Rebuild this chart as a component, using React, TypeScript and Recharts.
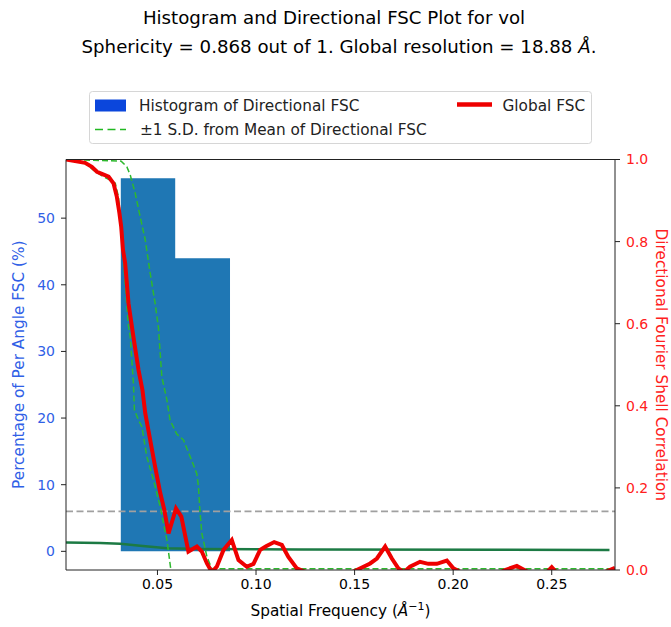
import React from 'react'
import { ComposedChart, Area, Line, XAxis, YAxis, ReferenceLine } from 'recharts'

const W = 671
const H = 627

const FREQ_MIN = 0.0036
const FREQ_MAX = 0.2821
const THRESHOLD = 0.143

// histogram of directional resolution (bin edges in 1/A, percent per bin)
const histEdges = [0.0314, 0.059, 0.0868]
const histPercent = [56.0, 44.0]

// global FSC
const globalFreq = [
  0.0036, 0.0133, 0.0167, 0.0193, 0.0218, 0.0252, 0.0277, 0.0294, 0.0307, 0.0316,
  0.0325, 0.0336, 0.0353, 0.0378, 0.0404, 0.0424, 0.0438, 0.0463, 0.0488, 0.0514,
  0.0535, 0.0556, 0.0594, 0.0621, 0.0657, 0.07, 0.0725, 0.0751, 0.0776, 0.0801,
  0.0835, 0.0877, 0.0911, 0.0953, 0.0987, 0.1021, 0.1051, 0.1092, 0.1131, 0.1164,
  0.1207, 0.1376, 0.1511, 0.1579, 0.1613, 0.1655, 0.1689, 0.1722, 0.1751, 0.1781,
  0.1832, 0.1874, 0.1917, 0.1968, 0.2001, 0.2137, 0.2263, 0.2323, 0.238, 0.2466,
  0.25, 0.2532, 0.2693, 0.2821,
]
const globalFsc = [
  1.0, 0.992, 0.982, 0.97, 0.965, 0.958, 0.942, 0.909, 0.869, 0.836,
  0.78, 0.748, 0.65, 0.568, 0.487, 0.438, 0.382, 0.317, 0.252, 0.188,
  0.146, 0.089, 0.15, 0.13, 0.045, 0.057, 0.045, 0.016, -0.005, 0.008,
  0.049, 0.073, 0.024, 0.008, 0.015, 0.049, 0.058, 0.068, 0.061, 0.032,
  0.004, -0.03, 0.0, 0.016, 0.028, 0.057, 0.028, 0.004, -0.005, 0.008,
  0.02, 0.015, 0.015, 0.023, 0.004, -0.03, 0.0, 0.01, -0.005, -0.01,
  0.007, -0.01, -0.02, 0.005,
]

// mean + 1 S.D. of directional FSC
const upperFreq = [
  0.0036, 0.026, 0.0316, 0.0345, 0.0362, 0.0387, 0.0412, 0.0438, 0.0463, 0.0488,
  0.0505, 0.0522, 0.0548, 0.0564, 0.0598, 0.0632, 0.0666, 0.07, 0.0708, 0.0714,
  0.0725, 0.0751, 0.0776, 0.2821,
]
const upperFsc = [
  1.0, 0.997, 0.996, 0.982, 0.962, 0.918, 0.861, 0.804, 0.723, 0.65,
  0.59, 0.471, 0.414, 0.365, 0.331, 0.317, 0.276, 0.234, 0.203, 0.154,
  0.089, 0.032, 0.003, 0.003,
]

// mean - 1 S.D. of directional FSC
const lowerFreq = [
  0.0036, 0.0108, 0.0134, 0.0175, 0.0226, 0.026, 0.0286, 0.0302, 0.0319, 0.0336,
  0.0353, 0.0362, 0.0378, 0.0383, 0.0404, 0.0421, 0.0446, 0.048, 0.0514, 0.0548,
  0.0567, 0.0585, 0.2821,
]
const lowerFsc = [
  1.0, 1.0, 0.991, 0.974, 0.958, 0.95, 0.942, 0.909, 0.821, 0.699,
  0.593, 0.568, 0.455, 0.39, 0.365, 0.349, 0.276, 0.219, 0.154, 0.073,
  0.004, -0.05, -0.05,
]

// unlabeled dark green curve
const meanFreq = [0.0036, 0.0209, 0.0311, 0.0412, 0.0549, 0.0717, 0.1224, 0.2793]
const meanFsc = [0.067, 0.066, 0.064, 0.059, 0.053, 0.051, 0.05, 0.049]

// 0.143 cut-off line across the whole range
const thrFreq = [FREQ_MIN, FREQ_MAX]

const xTicks = [0.05, 0.1, 0.15, 0.2, 0.25]
const leftTicks = [0, 10, 20, 30, 40, 50]
const rightTicks = [0, 0.2, 0.4, 0.6, 0.8, 1.0]

const FONT = "'DejaVu Sans', sans-serif"
const LABEL_SIZE = 15.3
const BLUE_TXT = '#3060e6'
const RED_TXT = '#ff2020'
const C_HIST = '#1f77b4'
const C_RED = '#ee0000'
const C_DASH = '#2eb82e'
const C_MEAN = '#1c7a44'

type Row = { f: number; [k: string]: number | undefined }

function buildRows(): Row[] {
  const map = new Map<number, Row>()
  const put = (fs: number[], vs: number[], key: string) => {
    fs.forEach((f, i) => {
      const r = map.get(f) ?? { f }
      r[key] = vs[i]
      map.set(f, r)
    })
  }
  put(histEdges, histEdges.map((_, i) => histPercent[Math.min(i, histPercent.length - 1)]), 'hist')
  put(meanFreq, meanFsc, 'mean')
  put(thrFreq, thrFreq.map(() => THRESHOLD), 'thr')
  put(lowerFreq, lowerFsc, 'lower')
  put(upperFreq, upperFsc, 'upper')
  put(globalFreq, globalFsc, 'global')
  return [...map.values()].sort((a, b) => a.f - b.f)
}

const rows = buildRows()

const LeftLabel = (props: any) => {
  const vb = props.viewBox || {}
  const cx = 19
  const cy = vb.y + vb.height / 2
  return (
    <text x={cx} y={cy} transform={`rotate(-90 ${cx} ${cy})`} textAnchor="middle" dominantBaseline="central"
      fill={BLUE_TXT} fontSize={LABEL_SIZE} fontFamily={FONT}>
      Percentage of Per Angle FSC (%)
    </text>
  )
}

const RightLabel = (props: any) => {
  const vb = props.viewBox || {}
  const cx = 661
  const cy = vb.y + vb.height / 2
  return (
    <text x={cx} y={cy} transform={`rotate(90 ${cx} ${cy})`} textAnchor="middle" dominantBaseline="central"
      fill={RED_TXT} fontSize={LABEL_SIZE} fontFamily={FONT}>
      Directional Fourier Shell Correlation
    </text>
  )
}

const BottomLabel = (props: any) => {
  const vb = props.viewBox || {}
  const cx = vb.x + vb.width / 2
  return (
    <text x={cx} y={616} textAnchor="middle" fill="#000" fontSize={LABEL_SIZE} fontFamily={FONT}>
      Spatial Frequency (<tspan fontStyle="italic">Å</tspan>
      <tspan dy={-6} fontSize={11}>−1</tspan>
      <tspan dy={6}>)</tspan>
    </text>
  )
}

function Header() {
  return (
    <svg width={W} height={150} style={{ position: 'absolute', left: 0, top: 0, pointerEvents: 'none' }}>
      <g fontFamily={FONT} fill="#000" fontSize={18.2}>
        <text x={334} y={24} textAnchor="middle">
          Histogram and Directional FSC Plot for vol
        </text>
        <text x={339} y={53} textAnchor="middle">
          Sphericity = 0.868 out of 1. Global resolution = 18.88 <tspan fontStyle="italic">Å</tspan>.
        </text>
      </g>
      <rect x={89.5} y={91.5} width={502} height={52} rx={3} fill="#fff" fillOpacity={0.8} stroke="#d6d6d6" />
      <g fontFamily={FONT} fontSize={LABEL_SIZE} fill="#222">
        <rect x={95} y={99.5} width={31} height={12} fill="#0b46dc" />
        <text x={139} y={110.7}>Histogram of Directional FSC</text>
        <line x1={95} x2={126} y1={129.5} y2={129.5} stroke="#22b822" strokeWidth={1.6} strokeDasharray="8 4.5" />
        <text x={140} y={135}>±1 S.D. from Mean of Directional FSC</text>
        <line x1={457} x2={492} y1={104.5} y2={104.5} stroke={C_RED} strokeWidth={4.5} />
        <text x={502.5} y={110.7}>Global FSC</text>
      </g>
    </svg>
  )
}

export default function App() {
  return (
    <div style={{ position: 'absolute', left: 0, top: 0, width: W, height: H, background: '#fff' }}>
      <ComposedChart width={W} height={H} data={rows} margin={{ top: 159.5, right: 0, bottom: 0, left: 0 }}>
        <XAxis
          dataKey="f"
          type="number"
          domain={[FREQ_MIN, FREQ_MAX]}
          allowDataOverflow
          ticks={xTicks}
          tickFormatter={(v: number) => v.toFixed(2)}
          height={57}
          tickSize={5}
          tickMargin={4}
          axisLine={{ stroke: '#222' }}
          tickLine={{ stroke: '#222' }}
          tick={{ fill: '#000', fontSize: 14, fontFamily: FONT }}
          label={{ content: BottomLabel }}
        />
        <YAxis
          yAxisId="left"
          type="number"
          domain={[-2.8, 58.8]}
          allowDataOverflow
          ticks={leftTicks}
          width={66}
          tickSize={5}
          tickMargin={6}
          axisLine={{ stroke: '#222' }}
          tickLine={{ stroke: '#222' }}
          tick={{ fill: BLUE_TXT, fontSize: 14, fontFamily: FONT }}
          label={{ content: LeftLabel }}
        />
        <YAxis
          yAxisId="right"
          orientation="right"
          type="number"
          domain={[0, 1]}
          allowDataOverflow
          ticks={rightTicks}
          tickFormatter={(v: number) => v.toFixed(1)}
          width={56}
          tickSize={5}
          tickMargin={6}
          axisLine={{ stroke: '#222' }}
          tickLine={{ stroke: '#222' }}
          tick={{ fill: RED_TXT, fontSize: 14, fontFamily: FONT }}
          label={{ content: RightLabel }}
        />
        <Area
          yAxisId="left"
          dataKey="hist"
          type="stepAfter"
          baseValue={0}
          fill={C_HIST}
          fillOpacity={1}
          stroke="none"
          connectNulls
          dot={false}
          activeDot={false}
          isAnimationActive={false}
        />
        <Line yAxisId="right" dataKey="mean" type="linear" stroke={C_MEAN} strokeWidth={2.5}
          dot={false} activeDot={false} connectNulls isAnimationActive={false} />
        <Line yAxisId="right" dataKey="thr" type="linear" stroke="#a0a0a0" strokeWidth={1.8} strokeDasharray="7 3.5"
          dot={false} activeDot={false} connectNulls isAnimationActive={false} />
        <Line yAxisId="right" dataKey="lower" type="linear" stroke={C_DASH} strokeWidth={1.5} strokeDasharray="6 3"
          dot={false} activeDot={false} connectNulls isAnimationActive={false} />
        <Line yAxisId="right" dataKey="upper" type="linear" stroke={C_DASH} strokeWidth={1.5} strokeDasharray="6 3"
          dot={false} activeDot={false} connectNulls isAnimationActive={false} />
        <Line yAxisId="right" dataKey="global" type="linear" stroke={C_RED} strokeWidth={4}
          dot={false} activeDot={false} connectNulls isAnimationActive={false} />
        <ReferenceLine yAxisId="right" y={1} stroke="#222" strokeWidth={1} />
      </ComposedChart>
      <Header />
    </div>
  )
}
